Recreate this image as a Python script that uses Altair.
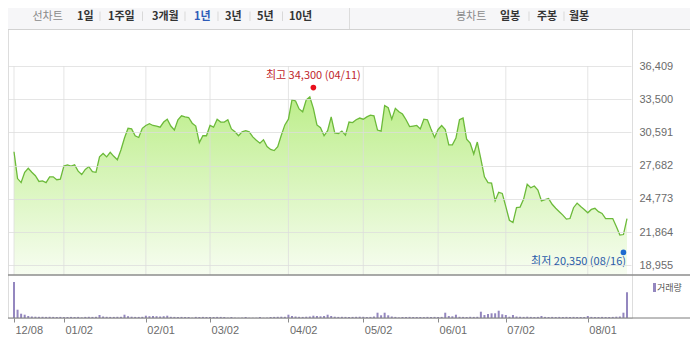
import altair as alt
import pandas as pd

# ---------------- data ----------------
PRICE = [
    28900, 26550, 26200, 27100, 27450, 27100, 26800, 26300, 26350, 26200,
    26700, 26700, 26450, 26500, 27650, 27750, 27650, 27750, 27200, 26900,
    27350, 27600, 27150, 27100, 28450, 28750, 28450, 28850, 28500, 28200,
    29050, 30100, 30950, 30900, 30300, 30150, 30950, 31200, 31350, 31200,
    31150, 31050, 31500, 31750, 31150, 30800, 31700, 32050, 31950, 31900,
    31400, 31150, 29700, 30300, 30300, 31200, 31050, 31750, 31500, 31500,
    31700, 30900, 30650, 30300, 30650, 30750, 30650, 30200, 29900, 29650,
    29950, 29350, 29100, 29000, 29350, 30350, 31250, 31750, 33450, 33350,
    32650, 32400, 33450, 33700, 32700, 31250, 31000, 30300, 30750, 31950,
    30550, 30500, 30700, 30350, 31500, 31450, 31700, 31850, 31750, 31950,
    32100, 32050, 30800, 30700, 32950, 32750, 31750, 32700, 32400, 32200,
    31700, 31100, 31150, 31200, 30900, 31750, 31700, 30900, 30150, 30850,
    31200, 30850, 29500, 29500, 30100, 31700, 31850, 30000, 29650, 28700,
    29750, 28250, 26700, 26200, 26150, 24600, 25350, 25250, 24100, 22900,
    22700, 24000, 24050, 24750, 26050, 25750, 25900, 25550, 24600, 24700,
    24800, 24300, 23950, 23650, 23350, 23000, 23050, 24000, 24400, 24100,
    23850, 23550, 23850, 23950, 23650, 23500, 23050, 23050, 23050, 22350,
    21600, 21650, 23050,
]

VOLUME = [  # thousand shares
    3600, 830, 430, 330, 200, 150, 130, 120, 120, 110,
    120, 110, 100, 110, 90, 100, 110, 100, 110, 60,
    110, 120, 110, 120, 300, 150, 120, 110, 110, 120,
    120, 330, 180, 130, 110, 110, 120, 230, 180, 200,
    180, 150, 180, 230, 120, 110, 100, 110, 100, 100,
    40, 110, 100, 110, 100, 100, 100, 110, 110, 100,
    40, 100, 40, 30, 40, 100, 30, 30, 30, 100,
    30, 40, 100, 110, 120, 130, 120, 330, 200, 150,
    120, 110, 130, 150, 230, 200, 170, 200, 330, 200,
    130, 110, 120, 110, 100, 110, 120, 130, 120, 100,
    110, 150, 530, 270, 530, 270, 150, 110, 60, 100,
    100, 110, 100, 100, 100, 90, 110, 100, 110, 100,
    110, 530, 200, 170, 330, 120, 110, 100, 120, 110,
    120, 630, 300, 400, 470, 470, 730, 370, 300, 130,
    300, 150, 120, 110, 130, 110, 100, 110, 200, 110,
    100, 110, 100, 110, 100, 110, 100, 110, 100, 100,
    100, 200, 110, 100, 100, 110, 100, 100, 110, 130,
    150, 530, 2570,
]

TICK_IDX = [0, 14, 37, 55, 77, 98, 119, 138, 161]
TICK_LABELS = ["12/08", "01/02", "02/01", "03/02", "04/02", "05/02", "06/01", "07/02", "08/01"]
Y_TICKS = [18955, 21864, 24773, 27682, 30591, 33500, 36409]

HIGH_IDX, HIGH_PRICE, HIGH_DATE = 84, 34300, "04/11"
LOW_IDX, LOW_PRICE, LOW_DATE = 171, 20350, "08/16"

PERIOD_BUTTONS = ["1일", "1주일", "3개월", "1년", "3년", "5년", "10년"]
CANDLE_BUTTONS = ["일봉", "주봉", "월봉"]
SELECTED = "1년"

# ---------------- layout ----------------
W, H = 624, 310
FULL_W = 682
KFONT = "Noto Sans CJK KR"
NFONT = "Liberation Sans"
PRICE_BASE = 18106
VOL_MAX = 3600
BAR_Y = 8.5

N = len(PRICE)
df = pd.DataFrame({"idx": list(range(N)), "price": PRICE, "volume": VOLUME})
ONE = pd.DataFrame({"v": [0]})

label_expr = ("[" + ",".join(f"'{s}'" for s in TICK_LABELS) + "][indexof(["
              + ",".join(str(i) for i in TICK_IDX) + "], datum.value)]")

x_scale = alt.Scale(domain=[0, N - 1], range=[1, W], nice=False, zero=False)
x_axis = alt.Axis(values=TICK_IDX, labelExpr=label_expr, title=None, domain=False,
                  grid=False, ticks=True, tickSize=4, tickColor="#8c8c8c",
                  labelAlign="left", labelPadding=2, labelOffset=1, labelFont=NFONT,
                  labelFontSize=11, labelColor="#6b6b6b", labelOverlap=False,
                  labelBound=False, labelFlush=False)
X = alt.X("idx:Q", scale=x_scale, axis=x_axis)

price_scale = alt.Scale(domain=[PRICE_BASE, 36409], range=[267, 58], nice=False, zero=False)
price_axis = alt.Axis(orient="right", values=Y_TICKS, labelExpr="format(datum.value, ',')",
                      title=None, domain=False,
                      ticks=False, labelPadding=7, labelFont=NFONT, labelFontSize=11,
                      labelColor="#6b6b6b", grid=True, gridColor="#dcdcdc",
                      gridOpacity=0.75, zindex=1)
Y = alt.Y("price:Q", scale=price_scale, axis=price_axis)

gradient = alt.Gradient(
    gradient="linear",
    stops=[alt.GradientStop(color="#bdee8b", offset=0),
           alt.GradientStop(color="#f7fdf1", offset=1)],
    x1=1, x2=1, y1=0, y2=1,
)

area = alt.Chart(df).mark_area(color=gradient).encode(x=X, y=Y, y2=alt.datum(PRICE_BASE))
vgrid = alt.Chart(pd.DataFrame({"idx": TICK_IDX})).mark_rule(
    color="#dcdcdc", opacity=0.75).encode(x=X, y=alt.value(58), y2=alt.value(267))
line = alt.Chart(df).mark_line(color="#6cba3a", strokeWidth=1.3).encode(x=X, y=Y)

hi_df = pd.DataFrame({"idx": [HIGH_IDX], "price": [HIGH_PRICE],
                      "label": [f"최고 {HIGH_PRICE:,} ({HIGH_DATE})"]})
lo_df = pd.DataFrame({"idx": [LOW_IDX], "price": [LOW_PRICE],
                      "label": [f"최저 {LOW_PRICE:,} ({LOW_DATE})"]})
hi_dot = alt.Chart(hi_df).mark_circle(size=32, color="#e8101c", opacity=1, yOffset=-2.5).encode(x=X, y=Y)
hi_txt = alt.Chart(hi_df).mark_text(font=KFONT, fontSize=11, color="#c0262d", align="center",
                                    baseline="middle", dy=-14.5).encode(x=X, y=Y, text="label:N")
lo_dot = alt.Chart(lo_df).mark_circle(size=32, color="#1f6bd0", opacity=1, yOffset=3).encode(x=X, y=Y)
lo_txt = alt.Chart(lo_df).mark_text(font=KFONT, fontSize=11, color="#2a5ba8", align="right",
                                    baseline="middle", dx=2.6, dy=13).encode(x=X, y=Y, text="label:N")

price = alt.layer(area, vgrid, line, hi_dot, hi_txt, lo_dot, lo_txt)

vol_scale = alt.Scale(domain=[0, VOL_MAX], range=[310, 274], nice=False)
volume = alt.Chart(df).mark_bar(color="#9487bf", size=2).encode(
    x=X, y=alt.Y("volume:Q", scale=vol_scale, axis=None))


def txt(s, x, y, size=11, color="#333333", weight="normal", align="left", font=KFONT):
    return alt.Chart(ONE).mark_text(text=s, align=align, baseline="middle", fontSize=size,
                                    color=color, fontWeight=weight, font=font).encode(
        x=alt.value(x), y=alt.value(y))


def hrule(y, x1, x2, color, width=1.0):
    return alt.Chart(ONE).mark_rule(color=color, strokeWidth=width).encode(
        x=alt.value(x1), x2=alt.value(x2), y=alt.value(y))


def vrule(x, y1, y2, color, width=1.0):
    return alt.Chart(ONE).mark_rule(color=color, strokeWidth=width).encode(
        x=alt.value(x), y=alt.value(y1), y2=alt.value(y2))


# toolbar
deco = []
deco.append(alt.Chart(ONE).mark_rect(color="#f6f6f8").encode(
    x=alt.value(0), x2=alt.value(FULL_W), y=alt.value(0), y2=alt.value(21)))
deco.append(hrule(21.5, 0, FULL_W, "#d2d2d2"))
deco.append(vrule(341.5, 0, 21, "#dcdcdc"))

PERIOD_X = [69, 100, 144, 186, 217, 249, 281]
CANDLE_X = [492, 529, 561]
SEP_X = [92, 134.5, 177, 210, 242, 274.5, 521, 556]

deco.append(txt("선차트", 24.5, BAR_Y, color="#8a8a8a"))
for lab, x in zip(PERIOD_BUTTONS, PERIOD_X):
    deco.append(txt(lab, x, BAR_Y, color="#2e5cb8" if lab == SELECTED else "#333333", weight="bold"))
deco.append(txt("봉차트", 448, BAR_Y, color="#8a8a8a"))
for lab, x in zip(CANDLE_BUTTONS, CANDLE_X):
    deco.append(txt(lab, x, BAR_Y, color="#333333", weight="bold"))
for x in SEP_X:
    deco.append(vrule(x, 3.5, 13, "#d9d9d9"))

front = [
    hrule(267, 0, FULL_W, "#8c8c8c", 1.3),
    hrule(310, 0, FULL_W, "#7d7d7d", 1.0),
    alt.Chart(ONE).mark_rect(color="#9487bf").encode(
        x=alt.value(645), x2=alt.value(648), y=alt.value(275), y2=alt.value(284)),
    txt("거래량", 649, 280, size=9, color="#555555"),
]

chart = alt.layer(*deco, price, volume, *front).resolve_scale(y="independent").properties(
    width=W, height=H,
    padding={"left": 0, "top": 0, "right": FULL_W - W, "bottom": 32},
    autosize=alt.AutoSizeParams(type="none"),
).configure_view(strokeWidth=0).configure(background="#ffffff")

chart.save("out.html", embed_options={"renderer": "svg", "actions": False})
